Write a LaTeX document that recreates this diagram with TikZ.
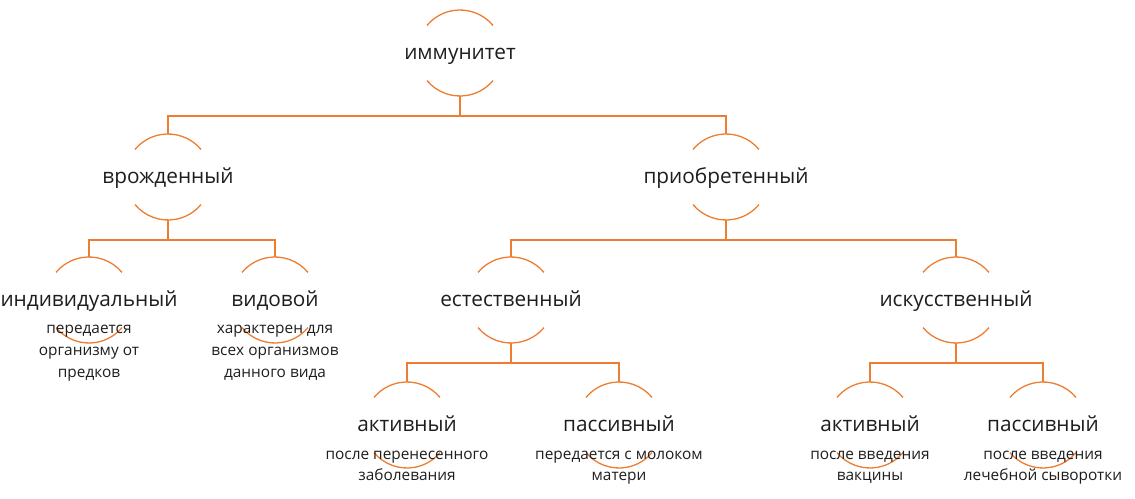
\documentclass[tikz,border=0pt]{standalone}
\usepackage{fontspec}
\setmainfont{Open Sans}
\usetikzlibrary{calc}
\definecolor{acc}{RGB}{237,125,49}
\definecolor{ink}{RGB}{30,30,30}
\newcommand\ringarcs[1]{%
  \draw[arcline] ([shift={(40:43)}]#1.center) arc[start angle=40,end angle=140,radius=43];
  \draw[arcline] ([shift={(220:43)}]#1.center) arc[start angle=220,end angle=320,radius=43];}
\begin{document}
\begin{tikzpicture}[x=1pt,y=1pt,
  lbl/.style={inner sep=0pt, text height=14pt, text depth=0pt, text=ink, font=\fontsize{20.8}{25}\selectfont},
  desc/.style={inner sep=0pt, anchor=base, align=center, text=ink, font=\fontsize{15.4}{22}\selectfont},
  arcline/.style={draw=acc, line width=1.3pt},
  bar/.style={draw=acc, line width=2pt}]
\useasboundingbox (0,0) rectangle (1135,498);
% nodes
\node[lbl] (imm) at (460,445) {иммунитет};
\node[lbl] (vro) at (168,321) {врожденный};
\node[lbl] (pri) at (726,321) {приобретенный};
\node[lbl] (ind) at (89,198) {индивидуальный};
\node[lbl] (vid) at (275,198) {видовой};
\node[lbl] (est) at (511,198) {естественный};
\node[lbl] (isk) at (956,198) {искусственный};
\node[lbl] (ea) at (407,73) {активный};
\node[lbl] (ep) at (619,73) {пассивный};
\node[lbl] (ia) at (870,73) {активный};
\node[lbl] (ip) at (1043,73) {пассивный};
% arcs
\foreach \n in {imm,vro,pri,ind,vid,est,isk,ea,ep,ia,ip}{\ringarcs{\n}}
% descriptions (base = last line)
\node[desc] (dind) at ($(ind.center)+(0,-78)$) {передается\\организму от\\предков};
\node[desc] (dvid) at ($(vid.center)+(0,-78)$) {характерен для\\всех организмов\\данного вида};
\node[desc] (dea) at ($(ea.center)+(0,-56)$) {после перенесенного\\заболевания};
\node[desc] (dep) at ($(ep.center)+(0,-56)$) {передается с молоком\\матери};
\node[desc] (dia) at ($(ia.center)+(0,-56)$) {после введения\\вакцины};
\node[desc] (dip) at ($(ip.center)+(0,-56)$) {после введения\\лечебной сыворотки};
% connectors
\foreach \p/\c in {imm/vro,imm/pri,vro/ind,vro/vid,pri/est,pri/isk,est/ea,est/ep,isk/ia,isk/ip}{
  \draw[bar] ([yshift=-43pt]\p.center) -- ++(0,-20.5) -| ([yshift=43pt]\c.center);
}
\end{tikzpicture}
\end{document}
